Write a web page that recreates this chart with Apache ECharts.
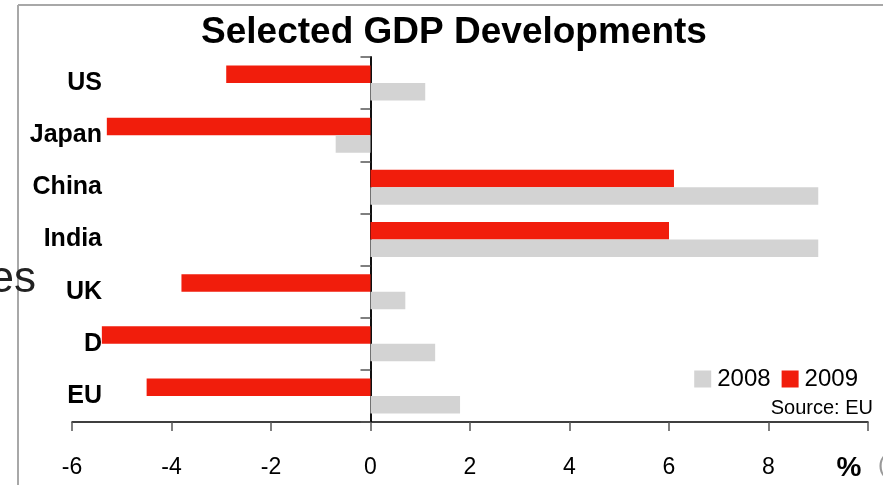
<!DOCTYPE html>
<html>
<head>
<meta charset="utf-8">
<script src="https://cdn.jsdelivr.net/npm/echarts@6/dist/echarts.min.js"></script>
<style>
  html, body { margin: 0; padding: 0; background: #fff; }
  #chart { width: 883px; height: 485px; }
</style>
</head>
<body>
<div id="chart"></div>
<script>
// data
const countries = ['US', 'Japan', 'China', 'India', 'UK', 'D', 'EU'];
const gdp2008 = [1.1, -0.7, 9.0, 9.0, 0.7, 1.3, 1.8];
const gdp2009 = [-2.9, -5.3, 6.1, 6.0, -3.8, -5.4, -4.5];
const tickLabels = ['-6', '-4', '-2', '0', '2', '4', '6', '8'];

const font = '"Liberation Sans", Arial, sans-serif';
const chart = echarts.init(document.getElementById('chart'));

const option = {
    animation: false,
    textStyle: { fontFamily: font },
    grid: { left: 72, right: 15, top: 57, bottom: 63, containLabel: false, outerBoundsMode: 'none' },
    legend: {
        right: 25,
        top: 367,
        padding: 0,
        itemWidth: 17,
        itemHeight: 17,
        itemGap: 11,
        icon: 'rect',
        data: ['2008', '2009'],
        textStyle: { fontFamily: font, fontSize: 24, color: '#000', padding: [0, 0, 0, 1] }
    },
    xAxis: {
        type: 'value',
        min: -6,
        max: 10,
        interval: 2,
        splitLine: { show: false },
        axisLine: { show: true, onZero: false, lineStyle: { color: '#000', width: 1.5 } },
        axisTick: { show: true, length: 9, lineStyle: { color: '#555', width: 1.5 } },
        axisLabel: {
            margin: 34,
            fontSize: 23,
            color: '#000',
            formatter: function (v)
            {
                const s = String(v);
                return tickLabels.indexOf(s) >= 0 ? s : '';
            }
        }
    },
    yAxis: {
        type: 'category',
        data: countries,
        inverse: true,
        axisLine: { show: true, onZero: true, lineStyle: { color: '#111', width: 2 } },
        axisTick: { show: true, length: 10, lineStyle: { color: '#555', width: 1.5 } },
        axisLabel: {
            margin: -30,
            fontSize: 25,
            fontWeight: 'bold',
            color: '#000'
        }
    },
    series: [
        {
            name: '2009',
            type: 'bar',
            data: gdp2009,
            barWidth: 17.5,
            barGap: '0%',
            itemStyle: { color: '#f11d0c' }
        },
        {
            name: '2008',
            type: 'bar',
            data: gdp2008,
            barWidth: 17.5,
            barGap: '0%',
            itemStyle: { color: '#d3d3d3' }
        }
    ],
    graphic: [
        // slide frame behind the chart
        { type: 'line', shape: { x1: 18, y1: 5, x2: 883, y2: 5 }, style: { stroke: '#a8a8a8', lineWidth: 2 }, z: -1 },
        { type: 'line', shape: { x1: 18, y1: 5, x2: 18, y2: 485 }, style: { stroke: '#a8a8a8', lineWidth: 2 }, z: -1 },
        {
            type: 'text', z: 10,
            style: {
                x: 454, y: 33, text: 'Selected GDP Developments', align: 'center', verticalAlign: 'middle',
                font: 'bold 37px ' + font, fill: '#000'
            }
        },
        {
            type: 'text', z: 10,
            style: { x: 873, y: 408, text: 'Source: EU', align: 'right', verticalAlign: 'middle', font: '20px ' + font, fill: '#000' }
        },
        {
            type: 'text', z: 10,
            style: { x: 849, y: 468, text: '%', align: 'center', verticalAlign: 'middle', font: 'bold 28px ' + font, fill: '#000' }
        },
        {
            type: 'text', z: 10,
            style: { x: 36, y: 280, text: 'es', align: 'right', verticalAlign: 'middle', font: '44px ' + font, fill: '#222' }
        },
        {
            type: 'text', z: 10,
            style: { x: 878, y: 465, text: '(', align: 'left', verticalAlign: 'middle', font: '24px ' + font, fill: '#999' }
        }
    ]
};

chart.setOption(option);
</script>
</body>
</html>
